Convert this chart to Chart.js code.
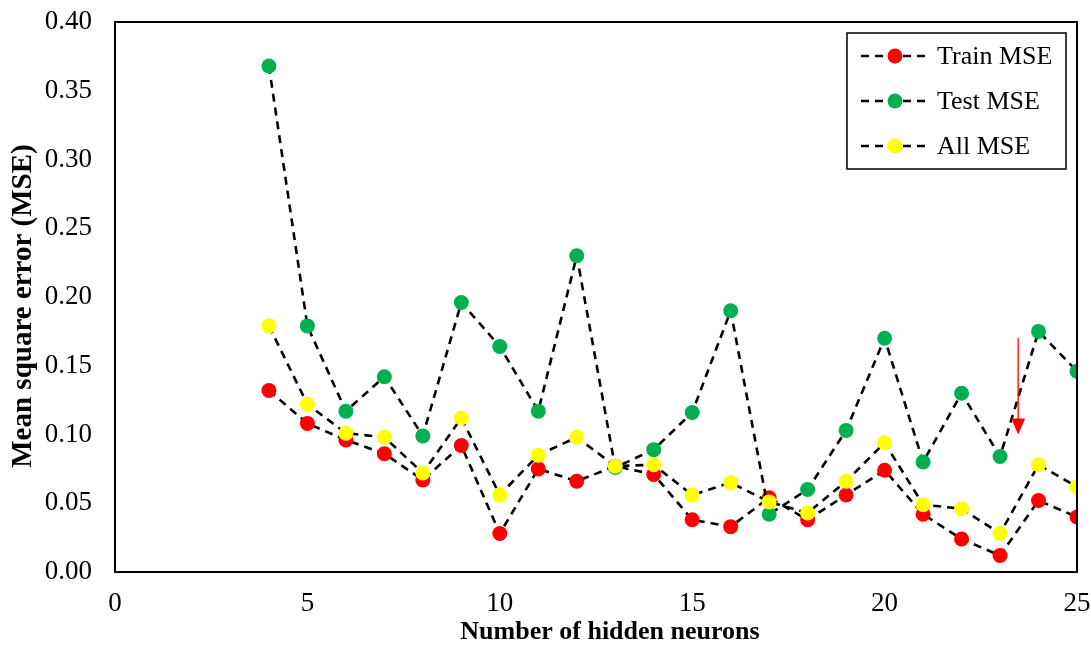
<!DOCTYPE html>
<html>
<head>
<meta charset="utf-8">
<script src="https://cdn.jsdelivr.net/npm/chart.js@4.4.0/dist/chart.umd.min.js"></script>
<style>
  html, body { margin: 0; padding: 0; background: #fff; }
  #wrap { width: 1091px; height: 652px; }
</style>
</head>
<body>
<div id="wrap"><canvas id="myChart"></canvas></div>
<script>
var neurons = [4, 5, 6, 7, 8, 9, 10, 11, 12, 13, 14, 15, 16, 17, 18, 19, 20, 21, 22, 23, 24, 25];
var trainMSE = [0.132, 0.108, 0.096, 0.086, 0.067, 0.092, 0.028, 0.075, 0.066, 0.077, 0.071, 0.038, 0.033, 0.054, 0.038, 0.056, 0.074, 0.042, 0.024, 0.012, 0.052, 0.040];
var testMSE = [0.368, 0.179, 0.117, 0.142, 0.099, 0.196, 0.164, 0.117, 0.230, 0.076, 0.089, 0.116, 0.190, 0.042, 0.060, 0.103, 0.170, 0.080, 0.130, 0.084, 0.175, 0.146];
var allMSE = [0.179, 0.122, 0.101, 0.098, 0.072, 0.112, 0.056, 0.085, 0.098, 0.077, 0.078, 0.056, 0.065, 0.051, 0.043, 0.066, 0.094, 0.049, 0.046, 0.028, 0.078, 0.062];
var seriesNames = ['Train MSE', 'Test MSE', 'All MSE'];
var seriesColors = ['#FF0000', '#00B050', '#FFFF00'];
var xTitle = 'Number of hidden neurons';
var yTitle = 'Mean square error (MSE)';
// marker pointing at the chosen network size
var arrowX = 23.47, arrowFrom = 0.170, arrowTo = 0.100;

var serif = '"Liberation Serif", "Times New Roman", serif';

function pairs(ys) {
    return neurons.map(function(x, i) { return { x: x, y: ys[i] }; });
}

function makeSet(name, ys, color, order) {
    return {
        label: name,
        data: pairs(ys),
        borderColor: '#000',
        borderWidth: 2.6,
        borderDash: [8, 6],
        pointRadius: 7.5,
        pointHoverRadius: 7.5,
        pointBackgroundColor: color,
        pointBorderWidth: 0,
        fill: false,
        order: order
    };
}

var frame = {
    id: 'frame',
    afterDraw: function(chart) {
        var c = chart.ctx, a = chart.chartArea;
        c.save();
        c.strokeStyle = '#000';
        c.lineWidth = 2;
        c.strokeRect(a.left, a.top, a.right - a.left, a.bottom - a.top);

        // axis titles
        c.fillStyle = '#000';
        c.textAlign = 'center';
        c.textBaseline = 'middle';
        c.font = 'bold 26px ' + serif;
        c.fillText(xTitle, 610, 632);
        c.save();
        c.translate(24, 306);
        c.rotate(-Math.PI / 2);
        c.font = 'bold 29px ' + serif;
        c.fillText(yTitle, 0, 0);
        c.restore();

        // arrow
        var xs = chart.scales.x, ys = chart.scales.y;
        var ax = xs.getPixelForValue(arrowX);
        var y1 = ys.getPixelForValue(arrowFrom), y2 = ys.getPixelForValue(arrowTo);
        c.strokeStyle = '#FF0000';
        c.fillStyle = '#FF0000';
        c.lineWidth = 1.3;
        c.beginPath();
        c.moveTo(ax, y1);
        c.lineTo(ax, y2 - 14);
        c.stroke();
        c.beginPath();
        c.moveTo(ax - 7, y2 - 16);
        c.lineTo(ax + 7, y2 - 16);
        c.lineTo(ax, y2);
        c.closePath();
        c.fill();

        // legend
        var lx = 847, ly = 33, lw = 219, lh = 136;
        c.fillStyle = '#fff';
        c.fillRect(lx, ly, lw, lh);
        c.strokeStyle = '#000';
        c.lineWidth = 1.5;
        c.strokeRect(lx, ly, lw, lh);
        c.font = '26px ' + serif;
        c.textBaseline = 'middle';
        c.textAlign = 'left';
        for (var i = 0; i < seriesNames.length; i++) {
            var cy = 56 + i * 45;
            c.strokeStyle = '#000';
            c.lineWidth = 2.6;
            c.setLineDash([8, 6]);
            c.beginPath();
            c.moveTo(861, cy);
            c.lineTo(927, cy);
            c.stroke();
            c.setLineDash([]);
            c.fillStyle = seriesColors[i];
            c.beginPath();
            c.arc(895, cy, 7.5, 0, Math.PI * 2);
            c.fill();
            c.fillStyle = '#000';
            c.fillText(seriesNames[i], 937, cy + 1);
        }
        c.restore();
    }
};

var ctx = document.getElementById('myChart').getContext('2d');
var myChart = new Chart(ctx, {
    type: 'line',
    data: {
        datasets: [
            makeSet(seriesNames[0], trainMSE, seriesColors[0], 2),
            makeSet(seriesNames[1], testMSE, seriesColors[1], 1),
            makeSet(seriesNames[2], allMSE, seriesColors[2], 0)
        ]
    },
    options: {
        responsive: true,
        maintainAspectRatio: false,
        animation: false,
        layout: { padding: { top: 22, right: 14, left: 0, bottom: 0 } },
        plugins: {
            legend: { display: false },
            tooltip: { enabled: false }
        },
        scales: {
            x: {
                type: 'linear',
                min: 0,
                max: 25,
                grid: { display: false, drawTicks: false },
                border: { display: true, color: '#000', width: 2 },
                ticks: {
                    stepSize: 5,
                    color: '#000',
                    padding: 16,
                    font: { family: serif, size: 27 }
                },
                afterFit: function(scale) {
                    scale.height = 80;
                    scale.paddingLeft = 0;
                    scale.paddingRight = 0;
                }
            },
            y: {
                min: 0,
                max: 0.4,
                grid: { display: false, drawTicks: false },
                border: { display: true, color: '#000', width: 2 },
                ticks: {
                    stepSize: 0.05,
                    color: '#000',
                    padding: 23,
                    font: { family: serif, size: 27 },
                    callback: function(value) { return value.toFixed(2); }
                },
                afterFit: function(scale) {
                    scale.width = 115;
                    scale.paddingTop = 0;
                    scale.paddingBottom = 0;
                }
            }
        }
    },
    plugins: [frame]
});
</script>
</body>
</html>
